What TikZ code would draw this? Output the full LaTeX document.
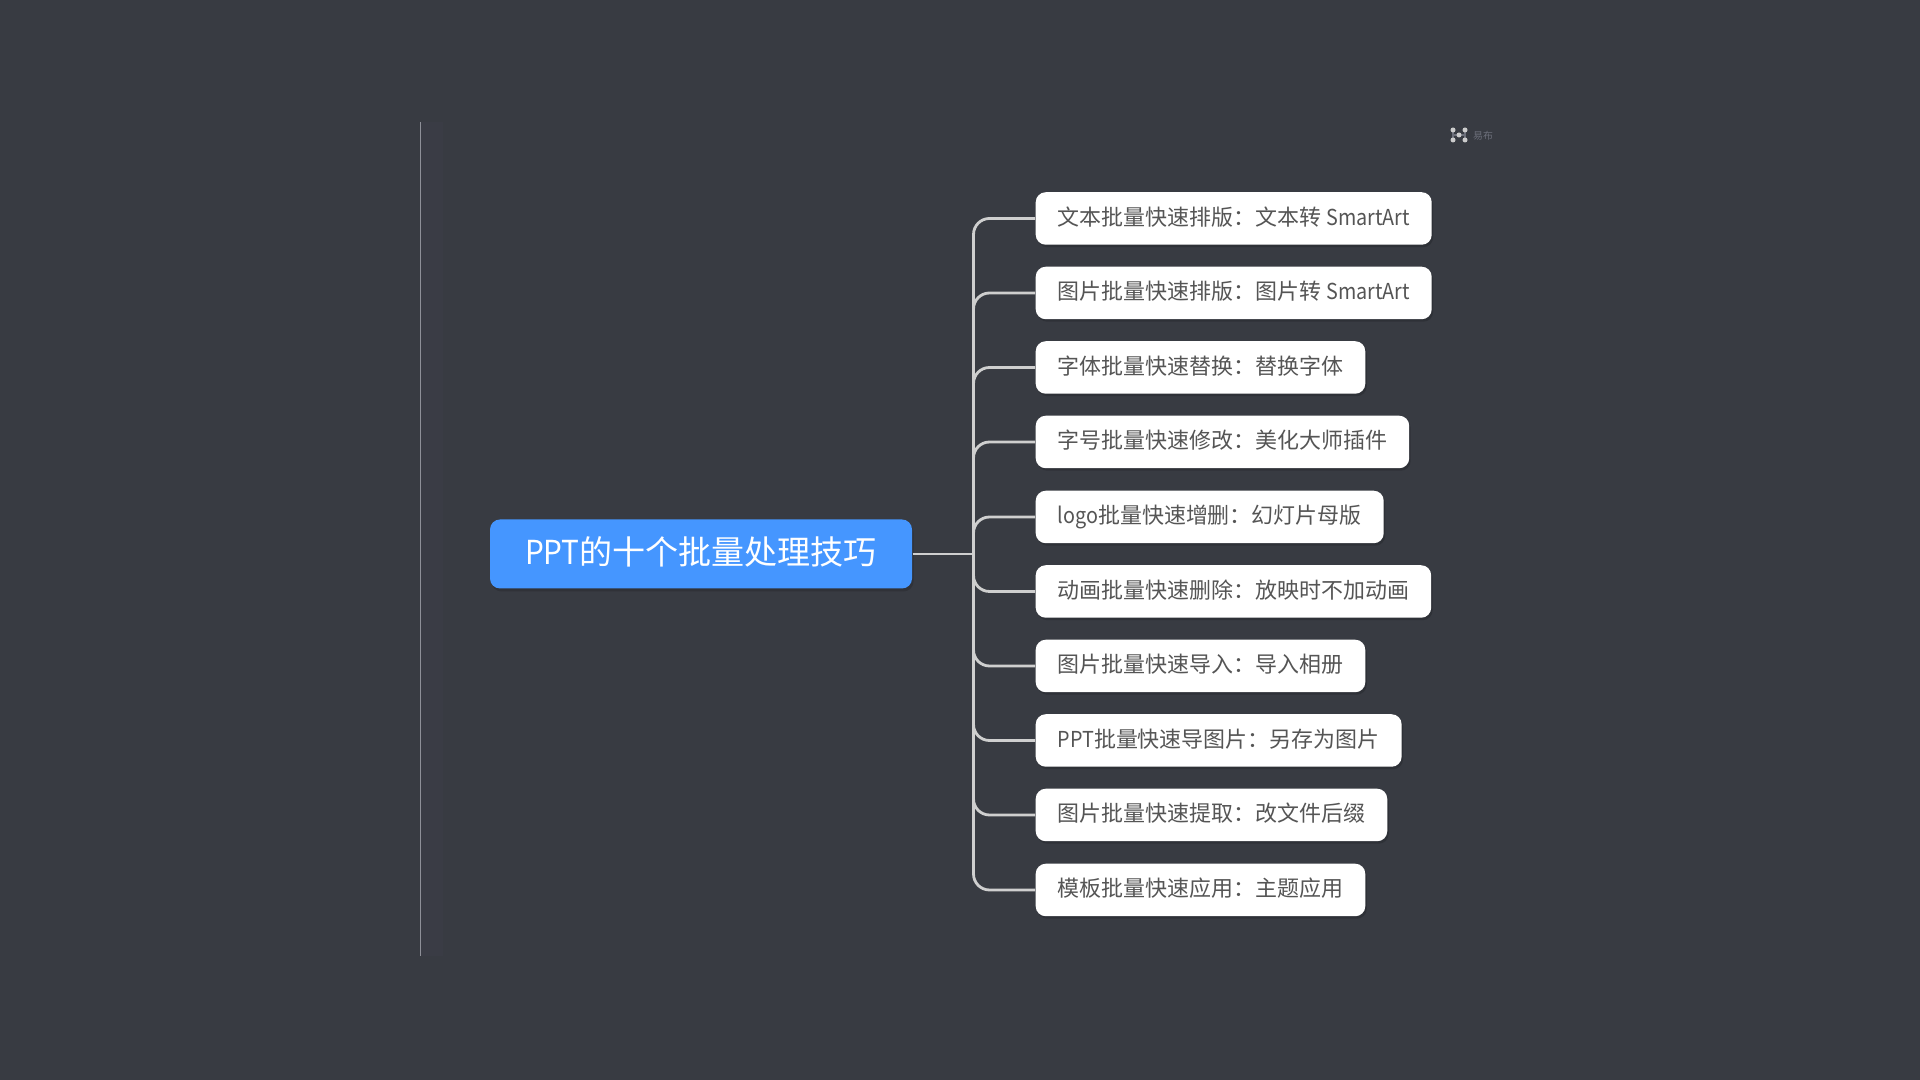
\documentclass[tikz,border=0pt]{standalone}
\usepackage{fontspec}
\setmainfont{Noto Sans CJK SC}
\newfontfamily\narrowlatin[FakeStretch=0.9]{Noto Sans CJK SC}
\usetikzlibrary{positioning,shadows}
\definecolor{bgdark}{HTML}{383B42}
\definecolor{bandtint}{HTML}{3A3C45}
\definecolor{rootblue}{HTML}{4596FF}
\definecolor{linegray}{HTML}{CFCFCF}
\definecolor{rulegray}{HTML}{8E9098}
\definecolor{leaftext}{HTML}{555555}
\definecolor{logogray}{HTML}{6C6F7A}

\begin{document}
\begin{tikzpicture}[thick,
                    root node/.style={rectangle,rounded corners=0.2cm,fill=rootblue,text=white,
                      minimum width=8.44cm,minimum height=1.38cm,inner sep=0pt,font=\fontsize{18.8}{22}\selectfont,
                      text height=1.3em,text depth=0.12em,
                      drop shadow={shadow xshift=0.03cm,shadow yshift=-0.06cm,fill=black,opacity=0.14}},
                    leaf node/.style={rectangle,rounded corners=0.2cm,fill=white,text=leaftext,anchor=west,
                      minimum height=1.05cm,inner xsep=0.44cm,inner ysep=0pt,font=\fontsize{12.5}{15}\selectfont,
                      text height=0.91em,text depth=0.12em,
                      drop shadow={shadow xshift=0.03cm,shadow yshift=-0.05cm,fill=black,opacity=0.16}},
                    branch/.style={draw=linegray,line width=1.6pt,rounded corners=0.32cm,
                      to path={|- (\tikztotarget)}}
                   ]
  \fill[bgdark] (0,0) rectangle (38.4,21.6);
  \useasboundingbox (0,0) rectangle (38.4,21.6);

  \coordinate (top) at (8.41,19.16);
  \coordinate (bottom) at (8.41,2.48);
  \fill[bandtint] (top) rectangle (8.86,2.48);
  \draw[line width=0.8pt,draw=rulegray] (top) -- (bottom);

  \node[root node] (root) at (14.02,10.52) {{\narrowlatin PPT}的十个批量处理技巧};
  \coordinate (trunk) at (19.47,10.52);

  \node[leaf node] (1) at (20.70,17.23) {文本批量快速排版：文本转 {\narrowlatin SmartArt}};
  \node[leaf node] (2) at (20.70,15.74) {图片批量快速排版：图片转 {\narrowlatin SmartArt}};
  \node[leaf node] (3) at (20.70,14.25) {字体批量快速替换：替换字体};
  \node[leaf node] (4) at (20.70,12.76) {字号批量快速修改：美化大师插件};
  \node[leaf node] (5) at (20.70,11.26) {{\narrowlatin logo}批量快速增删：幻灯片母版};
  \node[leaf node] (6) at (20.70,9.77) {动画批量快速删除：放映时不加动画};
  \node[leaf node] (7) at (20.70,8.28) {图片批量快速导入：导入相册};
  \node[leaf node] (8) at (20.70,6.79) {{\narrowlatin PPT}批量快速导图片：另存为图片};
  \node[leaf node] (9) at (20.70,5.30) {图片批量快速提取：改文件后缀};
  \node[leaf node] (10) at (20.70,3.80) {模板批量快速应用：主题应用};

  \draw[draw=linegray,line width=1.6pt] (root.east) -- (trunk);
  \path%
   (trunk) edge [branch] (1.west)
           edge [branch] (2.west)
           edge [branch] (3.west)
           edge [branch] (4.west)
           edge [branch] (5.west)
           edge [branch] (6.west)
           edge [branch] (7.west)
           edge [branch] (8.west)
           edge [branch] (9.west)
           edge [branch] (10.west);

  % logo
  \coordinate (icon) at (29.18,18.9);
  \draw[logogray,line width=0.6pt] (29.06,19.0) -- (29.06,18.8) (29.3,19.0) -- (29.3,18.8)
     (29.06,18.9) -- (29.3,18.9);
  \fill[white!80!black] (29.06,19.0) circle (0.05) (29.3,19.0) circle (0.05)
     (29.06,18.8) circle (0.05) (29.3,18.8) circle (0.05) (icon) circle (0.05);
  \node[text=logogray,font=\fontsize{5.6}{7}\selectfont,inner sep=0pt] (logo) at (29.66,18.88) {易布};
\end{tikzpicture}
\end{document}
